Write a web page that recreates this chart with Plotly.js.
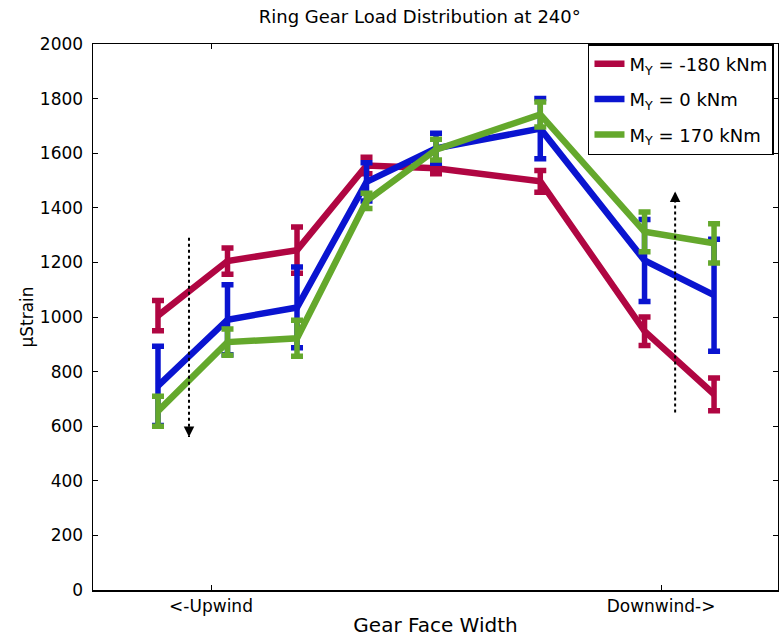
<!DOCTYPE html>
<html>
<head>
<meta charset="utf-8">
<script src="https://cdn.plot.ly/plotly-3.0.1.min.js"></script>
<style>html,body{margin:0;padding:0;background:#fff;}#chart{width:779px;height:637px;}</style>
</head>
<body>
<div id="chart"></div>
<script>
// Gauge positions along the gear face (in gauge-spacing units)
const gaugePos = [0, 1, 2, 3, 4, 5.5, 7, 8];
const tickPos = [0.763, 7.237];
const tickLabels = ['<-Upwind', 'Downwind->'];

const seriesNames = ['M<sub>Y</sub> = -180 kNm', 'M<sub>Y</sub> = 0 kNm', 'M<sub>Y</sub> = 170 kNm'];
const seriesColors = ['rgb(176,6,66)', 'rgb(10,20,208)', 'rgb(100,168,44)'];

const strainNeg180 = [1005, 1205, 1245, 1555, 1545, 1497, 948, 717];
const errNeg180    = [55, 48, 85, 30, 20, 40, 52, 60];
const strain0      = [748, 990, 1035, 1495, 1618, 1690, 1207, 1080];
const err0         = [145, 128, 148, 70, 55, 110, 150, 205];
const strain170    = [655, 908, 922, 1425, 1613, 1742, 1312, 1270];
const err170       = [55, 48, 66, 28, 38, 46, 73, 72];

// Dotted trend arrows: [x, yStart, yEnd]
const arrowUpwind = [0.446, 1290, 560];
const arrowDownwind = [7.44, 650, 1460];

const yVals = [strainNeg180, strain0, strain170];
const yErrs = [errNeg180, err0, err170];

const traces = yVals.map((ys, i) => ({
  x: gaugePos, y: ys, type: 'scatter', mode: 'lines',
  name: seriesNames[i], legendgroup: 'g' + i,
  line: {color: seriesColors[i], width: 6.5},
  error_y: {type: 'data', array: yErrs[i], visible: true, color: seriesColors[i], thickness: 5.5, width: 6}
}));

[arrowUpwind, arrowDownwind].forEach(a => {
  traces.push({x: [a[0], a[0]], y: [a[1], a[2]], type: 'scatter', mode: 'lines',
    showlegend: false, hoverinfo: 'skip', line: {color: '#000', width: 2, dash: 'dot'}});
});

const annotations = [arrowUpwind, arrowDownwind].map(a => ({
  x: a[0], y: a[2], xref: 'x', yref: 'y', axref: 'x', ayref: 'y',
  ax: a[0], ay: a[2] + (a[1] > a[2] ? 40 : -40),
  text: '', showarrow: true, arrowhead: 2, arrowsize: 1.4, arrowwidth: 1.5, arrowcolor: '#000'
}));

const font = {family: '"DejaVu Sans", "Liberation Sans", Arial, sans-serif', color: '#000'};

const layout = {
  width: 779, height: 637,
  margin: {l: 93, r: 1, t: 44, b: 47, pad: 0},
  paper_bgcolor: '#fff', plot_bgcolor: '#fff',
  font: Object.assign({size: 17}, font),
  title: {text: 'Ring Gear Load Distribution at 240°', font: Object.assign({size: 18}, font),
          x: 0.477, xref: 'paper', xanchor: 'center', y: 0.973, yref: 'container', yanchor: 'middle'},
  xaxis: {
    range: [-0.935, 8.92], tickmode: 'array', tickvals: tickPos, ticktext: tickLabels,
    ticks: 'inside', ticklen: 5, tickwidth: 1, tickcolor: '#000',
    showline: true, linecolor: '#000', linewidth: 1.5, mirror: 'ticks',
    showgrid: false, zeroline: false,
    tickfont: Object.assign({size: 17}, font),
    title: {text: 'Gear Face Width', font: Object.assign({size: 20}, font), standoff: 3}
  },
  yaxis: {
    range: [0, 2000], tickmode: 'linear', tick0: 0, dtick: 200,
    ticks: 'inside', ticklen: 5, tickwidth: 1, tickcolor: '#000',
    showline: true, linecolor: '#000', linewidth: 1.5, mirror: 'ticks',
    showgrid: false, zeroline: false, ticklabelstandoff: 5,
    tickfont: Object.assign({size: 17}, font),
    title: {text: 'μStrain', font: Object.assign({size: 17}, font), standoff: 2}
  },
  legend: {
    x: 0.7226, y: 1.0, xanchor: 'left', yanchor: 'top',
    bgcolor: '#fff', bordercolor: '#000', borderwidth: 1.5,
    tracegroupgap: 9,
    font: Object.assign({size: 18}, font)
  },
  annotations: annotations,
  showlegend: true
};

Plotly.newPlot('chart', traces, layout, {displayModeBar: false, staticPlot: true});
</script>
</body>
</html>
